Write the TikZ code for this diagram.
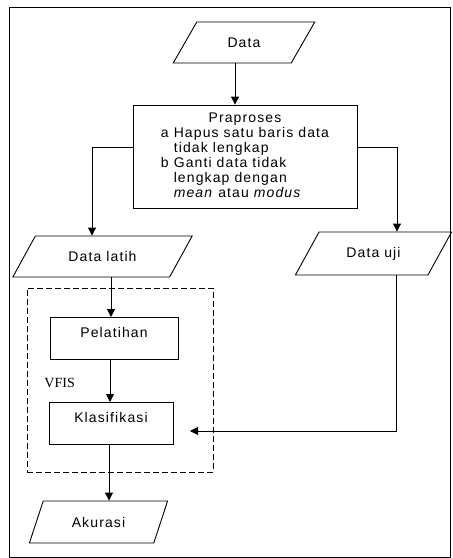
\documentclass[tikz,border=0pt]{standalone}
\usepackage{fontspec}
\setmainfont{Liberation Sans}[LetterSpace=8]
\newfontfamily\vfisfont{Liberation Serif}
\usetikzlibrary{arrows.meta,shapes.geometric,calc}
\begin{document}
\begin{tikzpicture}[x=1pt,y=-1pt,line width=0.9pt,
  every node/.style={font=\fontsize{14}{15}\selectfont},
  io/.style 2 args={draw,trapezium,trapezium left angle=#1,trapezium right angle=#2,
    trapezium stretches=true,inner sep=0pt},
  procbox/.style={draw,rectangle,inner sep=0pt,text height=20pt,text depth=22pt,anchor=north},
  arr/.style={-{Triangle[length=8pt,width=8pt]}},
  vfisbox/.style={draw,dashed,dash pattern=on 6pt off 3pt,rectangle,inner sep=0pt}]
\useasboundingbox (0,0) rectangle (453,558);
\draw[line width=0.9pt] (9,7) rectangle (450,557);

\node[io={50}{130},minimum width=142,minimum height=41] (data) at (244,42.5) {Data};
\node[draw,rectangle,inner sep=0pt,minimum width=224,minimum height=103] (prep) at (245,156.5)
{\begin{tabular}{@{}l@{ }l@{}}
\multicolumn{2}{c}{Praproses}\\
a & Hapus satu baris data\\
  & tidak lengkap\\
b & Ganti data tidak\\
  & lengkap dengan\\
  & \textit{mean} atau \textit{modus}
\end{tabular}};
\node[io={42}{138},minimum width=181,minimum height=41] (dlatih) at (102.5,256.5) {Data latih};
\node[io={48}{132},minimum width=157,minimum height=43] (duji) at (373.5,253.5) {Data uji};
\node[vfisbox,minimum width=186,minimum height=184] (vf) at (120,380) {};
\node[procbox,minimum width=128] (pel) at (114,317) {Pelatihan};
\node[procbox,minimum width=124] (kla) at (111,402) {Klasifikasi};
\node[anchor=west,inner sep=0pt,font=\vfisfont\fontsize{14}{14}\selectfont] (vfis) at (44,383) {VFIS};
\node[io={57}{123},minimum width=139,minimum height=42] (akur) at (98.5,522) {Akurasi};

\coordinate (xd) at (235,0);
\coordinate (yb) at (0,147);
\coordinate (xl) at (92,0);
\coordinate (xr) at (397,0);
\coordinate (x111) at (111,0);
\coordinate (x110) at (110,0);
\coordinate (x109) at (109,0);
\coordinate (xu) at (396,0);
\coordinate (tip) at (190,431);

\draw[arr] (data.south -| xd) -- (prep.north -| xd);
\draw[arr] (prep.west |- yb) -| (dlatih.north -| xl);
\draw[arr] (prep.east |- yb) -| (duji.north -| xr);
\draw[arr] (dlatih.south -| x111) -- (pel.north -| x111);
\draw[arr] (pel.south -| x110) -- (kla.north -| x110);
\draw[arr] (kla.south -| x109) -- (akur.north -| x109);
\draw[arr] (duji.south -| xu) |- (tip);
\end{tikzpicture}
\end{document}
